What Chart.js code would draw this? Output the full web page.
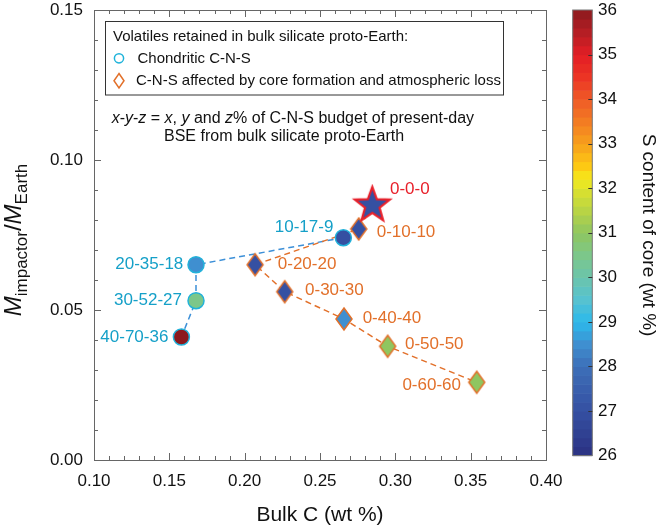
<!DOCTYPE html>
<html><head><meta charset="utf-8">
<script src="https://cdn.jsdelivr.net/npm/chart.js@4.4.0/dist/chart.umd.min.js"></script>
<style>html,body{margin:0;padding:0;background:#fff;}canvas{display:block;}</style>
</head><body>
<canvas id="c" width="660" height="529"></canvas>
<script>
// ---------- data ----------
const refLabels = ['0-0-0'];
const refX = [0.2847];
const refY = [0.0849];
const refS = [27.0];

const chondLabels = ['10-17-9', '20-35-18', '30-52-27', '40-70-36'];
const chondX = [0.2655, 0.1677, 0.1677, 0.1580];
const chondY = [0.0741, 0.0651, 0.0531, 0.0410];
const chondS = [27.0, 28.5, 30.5, 36.0];

const coreLabels = ['0-10-10', '0-20-20', '0-30-30', '0-40-40', '0-50-50', '0-60-60'];
const coreX = [0.2757, 0.2069, 0.2266, 0.2659, 0.2949, 0.3540];
const coreY = [0.0770, 0.0651, 0.0561, 0.0470, 0.0379, 0.0259];
const coreS = [27.0, 27.0, 27.0, 28.5, 31.0, 31.0];

const xTicks = [0.10, 0.15, 0.20, 0.25, 0.30, 0.35, 0.40];
const yTicks = [0.00, 0.05, 0.10, 0.15];
const cbTicks = [26, 27, 28, 29, 30, 31, 32, 33, 34, 35, 36];

// colormap (S content of core)
const cmapVals = [26, 27, 28, 28.5, 29, 29.5, 30, 30.5, 31, 31.5, 32, 32.2, 32.5, 33, 33.5, 34, 34.5, 35, 35.5, 36];
const cmapCols = ['#2b3182','#3550a2','#3d6fb8','#3f8fd0','#2cb9ec','#56c2d0','#6bc5ac','#7cc78a','#8fc660','#b8d445',
                  '#dde22c','#f4eb1c','#fdc913','#f7a01c','#f37c22','#ef5a27','#ec3424','#e31e25','#b51e24','#8c1a1e'];

// ---------- styles ----------
const FONT = "'Liberation Sans', Arial, Helvetica, sans-serif";
const TXT = '#111';
const AXC = '#666';
const CYAN_LBL = '#15a0c8';
const ORANGE = '#e2702a';
const RED = '#e8202a';
const chondLabelPos = [[-10, -10.4, 'right'], [-12.7, 0, 'right'], [-14, 0, 'right'], [-13, 0, 'right']];
const coreLabelPos = [[18, 3, 'left'], [22.7, 0, 'left'], [20.3, -1.7, 'left'], [18.7, -1, 'left'], [17.3, -2.4, 'left'], [-15.7, 3.3, 'right']];
const refLabelPos = [[17.7, -15.8, 'left']];

function hexToRgb(h){ return [parseInt(h.slice(1,3),16), parseInt(h.slice(3,5),16), parseInt(h.slice(5,7),16)]; }
function colorAt(v){
  if (v <= cmapVals[0]) return cmapCols[0];
  for (let i = 1; i < cmapVals.length; i++) {
    if (v <= cmapVals[i]) {
      const t = (v - cmapVals[i-1]) / (cmapVals[i] - cmapVals[i-1]);
      const a = hexToRgb(cmapCols[i-1]), b = hexToRgb(cmapCols[i]);
      const c = a.map((x, k) => Math.round(x + (b[k] - x) * t));
      return 'rgb(' + c.join(',') + ')';
    }
  }
  return cmapCols[cmapCols.length - 1];
}

function diamondCanvas(fill){
  const hw = 8, hh = 11, pad = 2;
  const cv = document.createElement('canvas');
  cv.width = 2*(hw+pad); cv.height = 2*(hh+pad);
  const g = cv.getContext('2d');
  const cx = cv.width/2, cy = cv.height/2;
  g.beginPath(); g.moveTo(cx, cy-hh); g.lineTo(cx+hw, cy); g.lineTo(cx, cy+hh); g.lineTo(cx-hw, cy); g.closePath();
  g.fillStyle = fill; g.fill();
  g.lineWidth = 1.5; g.strokeStyle = ORANGE; g.stroke();
  return cv;
}
function starCanvas(fill){
  const R = 18.4, r = 7.6, pad = 3;
  const cv = document.createElement('canvas');
  cv.width = cv.height = Math.ceil(2*(R+pad));
  const g = cv.getContext('2d');
  const cx = cv.width/2, cy = cv.height/2;
  g.beginPath();
  for (let i = 0; i < 10; i++) {
    const rad = i % 2 === 0 ? R : r;
    const ang = -Math.PI/2 + i*Math.PI/5;
    const px = cx + rad*Math.cos(ang), py = cy + rad*Math.sin(ang);
    if (i === 0) g.moveTo(px, py); else g.lineTo(px, py);
  }
  g.closePath();
  g.fillStyle = fill; g.fill();
  g.lineJoin = 'miter'; g.lineWidth = 2.2; g.strokeStyle = RED; g.stroke();
  return cv;
}

const refPts = refX.map((x, i) => ({x, y: refY[i]}));
const chondPts = chondX.map((x, i) => ({x, y: chondY[i]}));
const corePts = coreX.map((x, i) => ({x, y: coreY[i]}));

// ---------- plugins ----------
const frame = {
  id: 'frame',
  beforeDatasetsDraw(chart){
    const {ctx, chartArea: a, scales: {x, y}} = chart;
    ctx.save();
    ctx.strokeStyle = AXC; ctx.lineWidth = 1;
    ctx.strokeRect(Math.round(a.left)+0.5, Math.round(a.top)+0.5, Math.round(a.right-a.left), Math.round(a.bottom-a.top));
    ctx.beginPath();
    const step = 0.01;
    for (let v = xTicks[0]; v <= xTicks[xTicks.length-1] + 1e-9; v += step) {
      const major = xTicks.some(t => Math.abs(t - v) < 1e-6);
      const L = major ? 7 : 4;
      const px = Math.round(x.getPixelForValue(v)) + 0.5;
      ctx.moveTo(px, a.bottom); ctx.lineTo(px, a.bottom - L);
      ctx.moveTo(px, a.top); ctx.lineTo(px, a.top + L);
    }
    for (let v = yTicks[0]; v <= yTicks[yTicks.length-1] + 1e-9; v += step) {
      const major = yTicks.some(t => Math.abs(t - v) < 1e-6);
      const L = major ? 7 : 4;
      const py = Math.round(y.getPixelForValue(v)) + 0.5;
      ctx.moveTo(a.left, py); ctx.lineTo(a.left + L, py);
      ctx.moveTo(a.right, py); ctx.lineTo(a.right - L, py);
    }
    ctx.stroke();
    ctx.restore();
  },
  afterDraw(chart){
    const {ctx, scales} = chart;
    const cb = scales.cb;
    ctx.save();
    // colorbar
    const bx0 = cb.left + 26.7, bx1 = cb.left + 46.3;
    const lo = cbTicks[0], hi = cbTicks[cbTicks.length-1];
    const band = 0.2;
    for (let v = lo; v < hi - 1e-9; v += band) {
      const yTop = cb.getPixelForValue(Math.min(v + band, hi));
      const yBot = cb.getPixelForValue(v);
      ctx.fillStyle = colorAt(v + band/2);
      ctx.fillRect(bx0, yTop, bx1 - bx0, yBot - yTop + 0.6);
    }
    ctx.strokeStyle = '#777'; ctx.lineWidth = 1;
    ctx.strokeRect(bx0, cb.getPixelForValue(hi), bx1 - bx0, cb.getPixelForValue(lo) - cb.getPixelForValue(hi));
    ctx.strokeStyle = '#333';
    ctx.beginPath();
    cbTicks.slice(1, -1).forEach(v => {
      const py = Math.round(cb.getPixelForValue(v)) + 0.5;
      ctx.moveTo(bx1, py); ctx.lineTo(bx1 - 4, py);
    });
    ctx.stroke();

    // y axis title
    ctx.fillStyle = TXT;
    ctx.translate(21, 240); ctx.rotate(-Math.PI/2);
    const parts = [
      {t:'M', f:'italic 24px ' + FONT, dy:0},
      {t:'impactor', f:'17px ' + FONT, dy:6},
      {t:'/', f:'24px ' + FONT, dy:0},
      {t:'M', f:'italic 24px ' + FONT, dy:0},
      {t:'Earth', f:'17px ' + FONT, dy:6}
    ];
    let tot = 0;
    parts.forEach(p => { ctx.font = p.f; p.w = ctx.measureText(p.t).width; tot += p.w; });
    let cx = -tot/2;
    ctx.textBaseline = 'alphabetic'; ctx.textAlign = 'left';
    parts.forEach(p => { ctx.font = p.f; ctx.fillText(p.t, cx, p.dy); cx += p.w; });
    ctx.restore();

    // legend box
    ctx.save();
    ctx.fillStyle = '#fff';
    ctx.fillRect(105.5, 21.5, 398, 73.5);
    ctx.strokeStyle = '#333'; ctx.lineWidth = 1;
    ctx.strokeRect(105.5, 21.5, 398, 73.5);
    ctx.fillStyle = TXT; ctx.textBaseline = 'middle'; ctx.textAlign = 'left';
    ctx.font = '15px ' + FONT;
    ctx.fillText('Volatiles retained in bulk silicate proto-Earth:', 113, 37);
    ctx.fillText('Chondritic C-N-S', 137.5, 58.5);
    ctx.fillText('C-N-S affected by core formation and atmospheric loss', 136, 81);
    ctx.beginPath(); ctx.arc(119, 58.3, 4.6, 0, Math.PI*2);
    ctx.strokeStyle = '#1fb3da'; ctx.lineWidth = 1.5; ctx.stroke();
    ctx.beginPath(); ctx.moveTo(119, 73.5); ctx.lineTo(124, 80.7); ctx.lineTo(119, 87.9); ctx.lineTo(114, 80.7); ctx.closePath();
    ctx.strokeStyle = ORANGE; ctx.stroke();

    // annotation
    const drawRich = (segs, x0, y0) => {
      let xx = x0;
      segs.forEach(([t, it]) => {
        ctx.font = (it ? 'italic ' : '') + '16px ' + FONT;
        ctx.fillText(t, xx, y0);
        xx += ctx.measureText(t).width;
      });
    };
    ctx.fillStyle = TXT;
    drawRich([['x',1],['-',0],['y',1],['-',0],['z',1],[' = ',0],['x',1],[', ',0],['y',1],[' and ',0],['z',1],['% of C-N-S budget of present-day',0]], 111.7, 118.5);
    drawRich([['BSE from bulk silicate proto-Earth',0]], 164, 137);
    ctx.restore();
  },
  afterDatasetsDraw(chart){
    const {ctx, scales: {x, y}} = chart;
    ctx.save();
    ctx.font = '17px ' + FONT; ctx.textBaseline = 'middle';
    const put = (labels, xs, ys, pos, color) => {
      labels.forEach((lab, i) => {
        const px = x.getPixelForValue(xs[i]), py = y.getPixelForValue(ys[i]);
        ctx.fillStyle = color; ctx.textAlign = pos[i][2];
        ctx.fillText(lab, px + pos[i][0], py + pos[i][1]);
      });
    };
    put(chondLabels, chondX, chondY, chondLabelPos, CYAN_LBL);
    put(coreLabels, coreX, coreY, coreLabelPos, ORANGE);
    put(refLabels, refX, refY, refLabelPos, RED);
    ctx.restore();
  }
};

const tickFont = {family: FONT, size: 17};
const noPad = s => { s.paddingTop = 0; s.paddingBottom = 0; s.paddingLeft = 0; s.paddingRight = 0; };

new Chart(document.getElementById('c'), {
  type: 'scatter',
  data: {
    datasets: [
      {label: 'Present-day', data: refPts, pointStyle: refS.map(s => starCanvas(colorAt(s))), pointRadius: 18, order: 0},
      {label: 'C-N-S affected by core formation and atmospheric loss', data: corePts,
       pointStyle: coreS.map(s => diamondCanvas(colorAt(s))), pointRadius: 11, order: 1},
      {label: 'Chondritic C-N-S', data: chondPts, pointStyle: 'circle', pointRadius: 8,
       backgroundColor: chondS.map(colorAt), borderColor: '#22b2da', borderWidth: 1.5, order: 2},
      {label: 'core line', data: refPts.concat(corePts), showLine: true, borderColor: ORANGE, borderWidth: 1.5,
       borderDash: [6, 4], pointRadius: 0, order: 3},
      {label: 'chond line', data: chondPts, showLine: true, borderColor: '#3d90d8', borderWidth: 1.5,
       borderDash: [6, 4], pointRadius: 0, order: 4}
    ]
  },
  options: {
    responsive: false,
    animation: false,
    events: [],
    layout: {autoPadding: false, padding: {top: 10, left: 0, right: 0, bottom: 0}},
    plugins: {legend: {display: false}, tooltip: {enabled: false}},
    scales: {
      x: {
        type: 'linear', position: 'bottom', min: 0.1, max: 0.4,
        afterBuildTicks: s => { s.ticks = xTicks.map(v => ({value: v})); },
        ticks: {callback: v => Number(v).toFixed(2), padding: 11, font: tickFont, color: TXT, maxRotation: 0, autoSkip: false},
        grid: {display: false, drawTicks: false}, border: {display: false},
        title: {display: true, text: 'Bulk C (wt %)', font: {family: FONT, size: 21}, color: TXT, padding: {top: 0, bottom: 1}},
        afterFit: s => { s.height = 69; noPad(s); }
      },
      y: {
        type: 'linear', position: 'left', min: 0, max: 0.15,
        afterBuildTicks: s => { s.ticks = yTicks.map(v => ({value: v})); },
        ticks: {callback: v => Number(v).toFixed(2), padding: 11, font: tickFont, color: TXT, autoSkip: false},
        grid: {display: false, drawTicks: false}, border: {display: false},
        afterFit: s => { s.width = 94; noPad(s); }
      },
      cb: {
        type: 'linear', position: 'right', min: 25.9, max: 36,
        afterBuildTicks: s => { s.ticks = cbTicks.map(v => ({value: v})); },
        ticks: {callback: v => String(v), padding: 52, font: tickFont, color: TXT, autoSkip: false},
        grid: {display: false, drawTicks: false}, border: {display: false},
        title: {display: true, text: 'S content of core (wt %)', font: {family: FONT, size: 19}, color: TXT, padding: {top: 0.5, bottom: 0}},
        afterFit: s => { s.width = 114; noPad(s); }
      }
    }
  },
  plugins: [frame]
});
</script>
</body></html>
